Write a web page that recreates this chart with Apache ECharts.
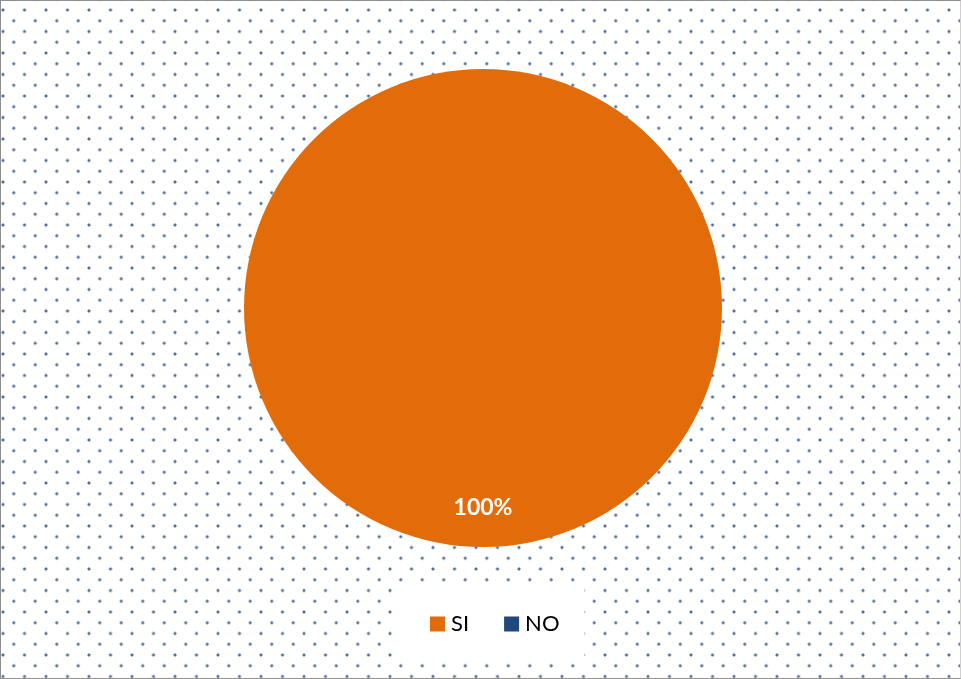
<!DOCTYPE html>
<html>
<head>
<meta charset="utf-8">
<script src="https://cdn.jsdelivr.net/npm/echarts@6/dist/echarts.min.js"></script>
<style>
  html, body { margin: 0; padding: 0; background: #fff; }
  #chart {
    width: 961px;
    height: 679px;
    box-sizing: border-box;
    border: 1px solid #8f8f8f;
    border-right-color: #d0d0d0;
    /* dotted chart-area fill */
    background-color: #fff;
    background-image:
      radial-gradient(circle, #4d6d9c 0, #4d6d9c 1.1px, rgba(77,109,156,0) 1.9px),
      radial-gradient(circle, #4d6d9c 0, #4d6d9c 1.1px, rgba(77,109,156,0) 1.9px);
    background-size: 21.5px 21.5px, 21.5px 21.5px;
    background-position: -8.75px -1.75px, 2px 9px;
  }
</style>
</head>
<body>
<div id="chart"></div>
<script>
  const categories = ['SI', 'NO'];
  const values = [100, 0];
  const colors = ['#E36C0A', '#1F497D'];

  const chart = echarts.init(document.getElementById('chart'), null, { renderer: 'canvas' });

  const pieData = categories.map((name, i) => ({
    name: name,
    value: values[i],
    itemStyle: { color: colors[i] }
  }));

  chart.setOption({
    backgroundColor: 'transparent',
    animation: false,
    legend: {
      data: categories,
      left: 392,
      top: 587,
      orient: 'horizontal',
      backgroundColor: '#ffffff',
      padding: [25, 25, 25, 37],
      itemWidth: 15,
      itemHeight: 15,
      itemGap: 35,
      icon: 'rect',
      textStyle: {
        fontFamily: 'Lato, "Open Sans", sans-serif',
        fontSize: 22,
        color: '#000000',
        padding: [0, 0, 0, 1]
      }
    },
    series: [{
      type: 'pie',
      center: [482, 307],
      radius: [0, 239],
      startAngle: 90,
      clockwise: true,
      silent: true,
      data: pieData,
      itemStyle: { borderWidth: 0 },
      label: {
        show: true,
        position: 'inside',
        color: '#ffffff',
        fontFamily: 'Lato, "Open Sans", sans-serif',
        fontWeight: 'bold',
        fontSize: 23,
        formatter: p => (p.value > 0 ? p.percent + '%' : '')
      },
      labelLine: { show: false },
      labelLayout: { dy: 77 }
    }]
  });
</script>
</body>
</html>
